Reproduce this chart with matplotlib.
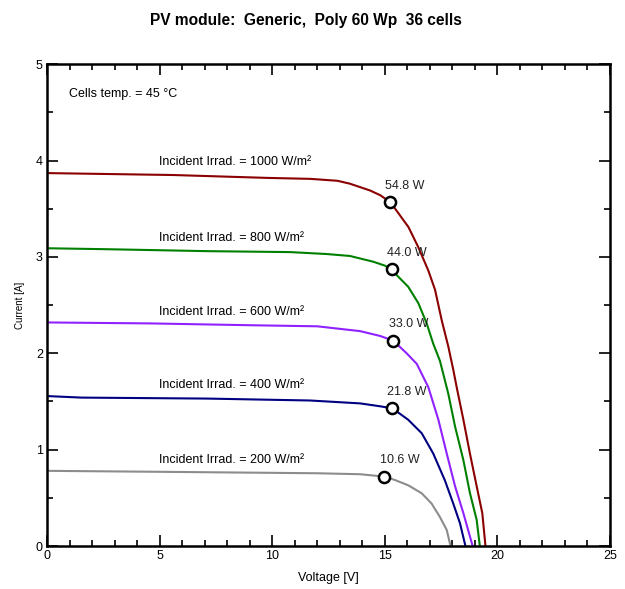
import numpy as np
import matplotlib
matplotlib.use('Agg')
import matplotlib.pyplot as plt
from matplotlib.ticker import MultipleLocator

plt.rcParams['font.family'] = ['Liberation Sans', 'DejaVu Sans']

# irradiance levels and I-V curves (V in volts, I in amps)
irrad = [1000, 800, 600, 400, 200]
colors = ['#8b0000', '#008000', '#9022ff', '#000080', '#8c8c8c']

v_1000 = [0, 5.6, 9.8, 11.7, 12.9, 13.45, 14.34, 14.8, 15.23, 15.46, 16.05, 16.49, 16.93, 17.23, 17.53,
          17.82, 18.04, 18.19, 18.49, 18.78, 19.08, 19.33, 19.47]
i_1000 = [3.87, 3.85, 3.82, 3.81, 3.79, 3.76, 3.69, 3.64, 3.57, 3.50, 3.31, 3.10, 2.86, 2.66, 2.34,
          2.07, 1.83, 1.65, 1.31, 0.96, 0.62, 0.34, 0.0]

v_800 = [0, 2.65, 7.09, 10.8, 12.42, 13.45, 14.49, 15.0, 15.3, 15.45, 16.04, 16.49, 16.86, 17.15, 17.45,
         17.82, 18.12, 18.49, 18.78, 19.08, 19.22]
i_800 = [3.09, 3.08, 3.06, 3.05, 3.03, 3.01, 2.95, 2.91, 2.87, 2.83, 2.69, 2.52, 2.31, 2.10, 1.92,
         1.58, 1.24, 0.89, 0.55, 0.27, 0.0]

v_600 = [0, 4.57, 9.31, 12.0, 13.9, 14.79, 15.38, 15.97, 16.42, 16.93, 17.38, 17.75, 18.12, 18.49, 18.9]
i_600 = [2.32, 2.31, 2.29, 2.28, 2.23, 2.18, 2.13, 2.0, 1.89, 1.65, 1.31, 0.96, 0.62, 0.34, 0.0]

v_400 = [0, 1.54, 7.09, 11.68, 13.9, 14.79, 15.3, 15.45, 16.04, 16.64, 17.15, 17.67, 18.04, 18.34, 18.58]
i_400 = [1.556, 1.54, 1.53, 1.51, 1.48, 1.45, 1.43, 1.41, 1.31, 1.17, 0.96, 0.68, 0.44, 0.235, 0.0]

v_200 = [0, 5.02, 11.98, 13.9, 14.98, 15.45, 16.04, 16.64, 17.08, 17.45, 17.75, 17.92]
i_200 = [0.78, 0.77, 0.755, 0.745, 0.72, 0.685, 0.63, 0.547, 0.44, 0.30, 0.166, 0.0]

mpp_v = [15.23, 15.3, 15.38, 15.3, 14.98]
mpp_i = [3.57, 2.87, 2.13, 1.43, 0.72]
mpp_lbl = ['54.8 W', '44.0 W', '33.0 W', '21.8 W', '10.6 W']

curves = [(v_1000, i_1000), (v_800, i_800), (v_600, i_600), (v_400, i_400), (v_200, i_200)]

fig = plt.figure(figsize=(6.25, 5.89), dpi=100)
ax = fig.add_axes([0.0752, 0.073, 0.9008, 0.818])

for (v, i), c, g in zip(curves, colors, irrad):
    ax.plot(v, i, color=c, lw=1.5, zorder=2)
    ax.text(4.97, i[0] + 0.08, 'Incident Irrad. = %d W/m²' % g, fontsize=9,
            ha='left', va='baseline')

ax.plot(mpp_v, mpp_i, 'o', ms=8, mfc='white', mec='black', mew=1.8, zorder=3)
for x, y, s in zip(mpp_v, mpp_i, mpp_lbl):
    ax.text(x - 0.2, y + 0.14, s, fontsize=9, color='#222222', ha='left', va='baseline')

ax.text(0.99, 4.66, 'Cells temp. = 45 °C', fontsize=9, ha='left', va='baseline')

ax.set_xlim(0, 25); ax.set_ylim(0, 5)
ax.xaxis.set_major_locator(MultipleLocator(5)); ax.xaxis.set_minor_locator(MultipleLocator(1))
ax.yaxis.set_major_locator(MultipleLocator(1)); ax.yaxis.set_minor_locator(MultipleLocator(0.5))
ax.tick_params(which='both', direction='in', top=True, right=True, width=1.2, labelsize=9, pad=3)
ax.tick_params(which='major', length=8)
ax.tick_params(which='minor', length=4)
for sp in ax.spines.values():
    sp.set_linewidth(1.8)

ax.set_xlabel('Voltage [V]', fontsize=9, labelpad=7)
ax.set_ylabel('Current [A]', fontsize=7, labelpad=8)
fig.suptitle('PV module:  Generic,  Poly 60 Wp  36 cells', fontsize=11.2, fontweight='bold',
             x=0.49, y=0.978)

fig.savefig('out.png', dpi=100)
